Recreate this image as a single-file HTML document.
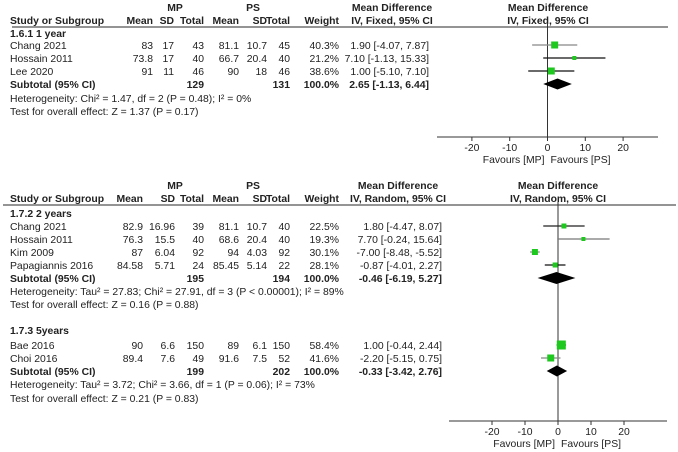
<!DOCTYPE html>
<html><head><meta charset="utf-8"><style>
html,body{margin:0;padding:0;background:#fff;width:678px;height:452px;overflow:hidden}
svg{display:block;font-family:"Liberation Sans",Arial,sans-serif;font-size:10.4px;fill:#222}
.b{font-weight:bold}
</style></head><body>
<svg id="c" width="678" height="452" viewBox="0 0 678 452"></svg>
<script>
// ---- data ----
const studies1 = ["Chang 2021","Hossain 2011","Lee 2020"];
const mpMean1 = ["83","73.8","91"], mpSD1 = ["17","17","11"], mpN1 = ["43","40","46"];
const psMean1 = ["81.1","66.7","90"], psSD1 = ["10.7","20.4","18"], psN1 = ["45","40","46"];
const weight1 = [40.3,21.2,38.6];
const md1 = [1.90,7.10,1.00], lo1 = [-4.07,-1.13,-5.10], hi1 = [7.87,15.33,7.10];
const sub1 = [2.65,-1.13,6.44];

const studies2 = ["Chang 2021","Hossain 2011","Kim 2009","Papagiannis 2016"];
const mpMean2 = ["82.9","76.3","87","84.58"], mpSD2 = ["16.96","15.5","6.04","5.71"], mpN2 = ["39","40","92","24"];
const psMean2 = ["81.1","68.6","94","85.45"], psSD2 = ["10.7","20.4","4.03","5.14"], psN2 = ["40","40","92","22"];
const weight2 = [22.5,19.3,30.1,28.1];
const md2 = [1.80,7.70,-7.00,-0.87], lo2 = [-4.47,-0.24,-8.48,-4.01], hi2 = [8.07,15.64,-5.52,2.27];
const sub2 = [-0.46,-6.19,5.27];

const studies3 = ["Bae 2016","Choi 2016"];
const mpMean3 = ["90","89.4"], mpSD3 = ["6.6","7.6"], mpN3 = ["150","49"];
const psMean3 = ["89","91.6"], psSD3 = ["6.1","7.5"], psN3 = ["150","52"];
const weight3 = [58.4,41.6];
const md3 = [1.00,-2.20], lo3 = [-0.44,-5.15], hi3 = [2.44,0.75];
const sub3 = [-0.33,-3.42,2.76];

const ticks = [-20,-10,0,10,20];

// ---- drawing ----
const svg = document.getElementById('c');
const NS = 'http://www.w3.org/2000/svg';
function el(tag, attrs, parent){const e=document.createElementNS(NS,tag);for(const k in attrs)e.setAttribute(k,attrs[k]);(parent||svg).appendChild(e);return e;}
function txt(x,y,s,anchor,bold,name){const t=el('text',{x:x,y:y,'text-anchor':anchor||'start'});if(bold)t.setAttribute('class','b');t.textContent=s;

return t;}
const f2 = v => v.toFixed(2);
const ci = (m,l,h) => f2(m)+" ["+f2(l)+", "+f2(h)+"]";

const cols1 = {mean:153,sd:174,n:204,pm:239,psd:267,pn:290,w:339,ci:429};
const cols2 = {mean:143,sd:175,n:204,pm:239,psd:267,pn:290,w:339,ci:442};

function header(y0, cols, ciTitle, ciCenter, plotCenter, lineX1, lineX2){
  txt(175,y0,"MP","middle",true,'mp-group-header');
  txt(253,y0,"PS","middle",true,'ps-group-header');
  txt(ciCenter,y0,"Mean Difference","middle",true,'md-header');
  txt(plotCenter,y0,"Mean Difference","middle",true,'plot-header');
  const y=y0+13;
  txt(10,y,"Study or Subgroup","start",true,'study-col-header');
  txt(cols.mean,y,"Mean","end",true,'mp-mean-header');
  txt(cols.sd,y,"SD","end",true,'mp-sd-header');
  txt(cols.n,y,"Total","end",true,'mp-total-header');
  txt(cols.pm,y,"Mean","end",true,'ps-mean-header');
  txt(cols.psd,y,"SD","end",true,'ps-sd-header');
  txt(cols.pn,y,"Total","end",true,'ps-total-header');
  txt(cols.w,y,"Weight","end",true,'weight-header');
  txt(ciCenter,y,ciTitle,"middle",true,'ci-header');
  txt(plotCenter,y,ciTitle,"middle",true,'plot-ci-header');
  const l=el('line',{x1:lineX1,x2:lineX2,y1:y+3,y2:y+3,stroke:'#555','stroke-width':1.3});
  
  
}

function studyRows(y0, step, cols, S, mm, ms, mn, pm, ps, pn, w, md, lo, hi, X, lineColors, sizes){
  S.forEach((s,i)=>{
    const y=y0+i*step;
    txt(10,y,s,'start',false,'study-name');
    txt(cols.mean,y,mm[i],'end',false,'mp-mean');
    txt(cols.sd,y,ms[i],'end',false,'mp-sd');
    txt(cols.n,y,mn[i],'end',false,'mp-total');
    txt(cols.pm,y,pm[i],'end',false,'ps-mean');
    txt(cols.psd,y,ps[i],'end',false,'ps-sd');
    txt(cols.pn,y,pn[i],'end',false,'ps-total');
    txt(cols.w,y,w[i].toFixed(1)+"%",'end',false,'weight');
    txt(cols.ci,y,ci(md[i],lo[i],hi[i]),'end',false,'ci-text');
    const cy=y-4;
    const ln=el('line',{x1:X(lo[i]),x2:X(hi[i]),y1:cy,y2:cy,stroke:lineColors[i],'stroke-width':1.2});
    
    
    const sz=sizes[i];
    const r=el('rect',{x:X(md[i])-sz/2,y:cy-sz/2,width:sz,height:sz,fill:'#1ec81e'});
    
    
  });
}

function diamond(y, sub, X, hh, name){
  const cy=y-4;
  const p=el('polygon',{points:`${X(sub[1])},${cy} ${X(sub[0])},${cy-hh} ${X(sub[2])},${cy} ${X(sub[0])},${cy+hh}`,fill:'#000'});
  
  
}

function axis(X, yTop, yAxis, x1, x2, name){
  const v=el('line',{x1:X(0),x2:X(0),y1:yTop,y2:yAxis,stroke:'#333','stroke-width':1});
  
  
  const a=el('line',{x1:x1,x2:x2,y1:yAxis,y2:yAxis,stroke:'#333','stroke-width':1});
  
  
  ticks.forEach(t=>{
    const tk=el('line',{x1:X(t),x2:X(t),y1:yAxis,y2:yAxis+4,stroke:'#333'});
    
    
    txt(X(t),yAxis+14,String(t),'middle',false,'tick-label');
  });
  txt(X(0)-3,yAxis+26,"Favours [MP]",'end',false,'favours-mp');
  txt(X(0)+3,yAxis+26,"Favours [PS]",'start',false,'favours-ps');
}

// panel 1
const X1 = v => 547.5 + v*3.78;
header(11,cols1,"IV, Fixed, 95% CI",392,548,12,668);
txt(10,37,"1.6.1 1 year",'start',true,'subgroup-title-1');
axis(X1,23,137,437,658,'panel1');
studyRows(49,13,cols1,studies1,mpMean1,mpSD1,mpN1,psMean1,psSD1,psN1,weight1,md1,lo1,hi1,X1,['#888','#111','#111'],[7,4,7]);
txt(10,88,"Subtotal (95% CI)",'start',true,'subtotal-label');
txt(cols1.n,88,"129",'end',true,'subtotal-mp');
txt(cols1.pn,88,"131",'end',true,'subtotal-ps');
txt(cols1.w,88,"100.0%",'end',true,'subtotal-weight');
txt(cols1.ci,88,ci(sub1[0],sub1[1],sub1[2]),'end',true,'subtotal-ci');
diamond(88,sub1,X1,5.5,'pooled-diamond-1');
txt(10,102,"Heterogeneity: Chi² = 1.47, df = 2 (P = 0.48); I² = 0%",'start',false,'heterogeneity-1');
txt(10,115,"Test for overall effect: Z = 1.37 (P = 0.17)",'start',false,'overall-effect-1');

// panel 2
const X2 = v => 558 + v*3.3;
header(189,cols2,"IV, Random, 95% CI",398,558,3,676);
txt(10,217,"1.7.2 2 years",'start',true,'subgroup-title-2');
axis(X2,202,421,449,667,'panel2');
studyRows(230,13,cols2,studies2,mpMean2,mpSD2,mpN2,psMean2,psSD2,psN2,weight2,md2,lo2,hi2,X2,['#222','#777','#888','#111'],[5,4,6,5]);
txt(10,282,"Subtotal (95% CI)",'start',true,'subtotal-label');
txt(cols2.n,282,"195",'end',true,'subtotal-mp');
txt(cols2.pn,282,"194",'end',true,'subtotal-ps');
txt(cols2.w,282,"100.0%",'end',true,'subtotal-weight');
txt(cols2.ci,282,ci(sub2[0],sub2[1],sub2[2]),'end',true,'subtotal-ci');
diamond(282,sub2,X2,6,'pooled-diamond-2');
txt(10,295,"Heterogeneity: Tau² = 27.83; Chi² = 27.91, df = 3 (P < 0.00001); I² = 89%",'start',false,'heterogeneity-2');
txt(10,308,"Test for overall effect: Z = 0.16 (P = 0.88)",'start',false,'overall-effect-2');

txt(10,334,"1.7.3 5years",'start',true,'subgroup-title-3');
studyRows(349,13,cols2,studies3,mpMean3,mpSD3,mpN3,psMean3,psSD3,psN3,weight3,md3,lo3,hi3,X2,['#333','#888'],[9,7]);
txt(10,375,"Subtotal (95% CI)",'start',true,'subtotal-label');
txt(cols2.n,375,"199",'end',true,'subtotal-mp');
txt(cols2.pn,375,"202",'end',true,'subtotal-ps');
txt(cols2.w,375,"100.0%",'end',true,'subtotal-weight');
txt(cols2.ci,375,ci(sub3[0],sub3[1],sub3[2]),'end',true,'subtotal-ci');
diamond(375,sub3,X2,5.5,'pooled-diamond-3');
txt(10,388,"Heterogeneity: Tau² = 3.72; Chi² = 3.66, df = 1 (P = 0.06); I² = 73%",'start',false,'heterogeneity-3');
txt(10,402,"Test for overall effect: Z = 0.21 (P = 0.83)",'start',false,'overall-effect-3');
</script>
</body></html>
